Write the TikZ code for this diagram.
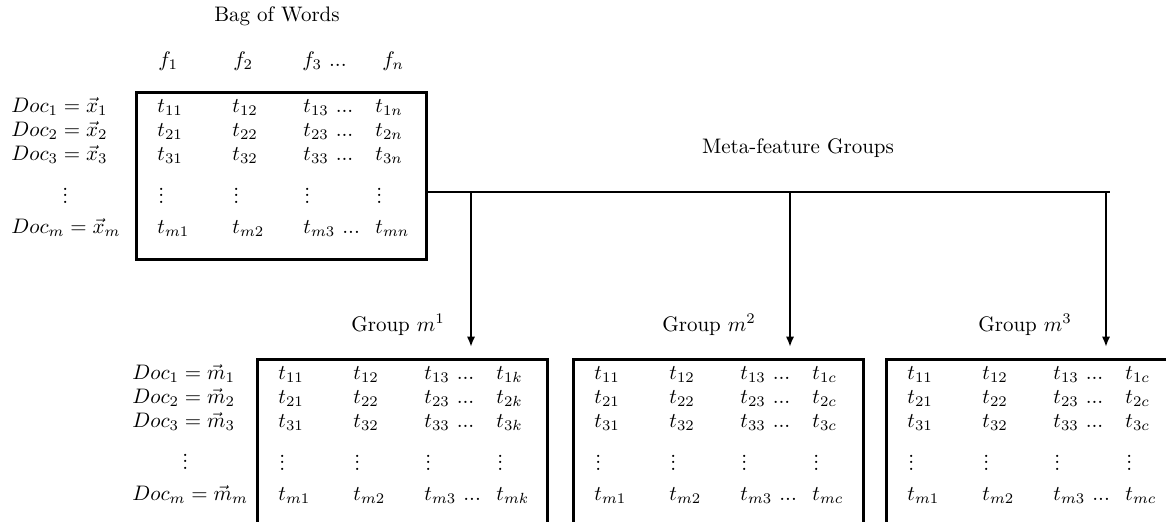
\documentclass[tikz,border=0pt]{standalone}
\usetikzlibrary{arrows.meta}

% compact vertical ellipsis
\newcommand\vdotcol{\vbox{\baselineskip3pt\lineskiplimit0pt\hbox{.}\hbox{.}\hbox{.}}}

% a term matrix: name, left x, top y, index of the last column
\newcommand\termtable[4]{%
  \node[tbl] (#1) at (#2,#3) {};
  \foreach \r/\ry in {1/17,2/41,3/65,m/138}{
    \node[cell] (#1-\r-1) at (#2+22,#3+\ry)  {$t_{\r1}$};
    \node[cell] (#1-\r-2) at (#2+97,#3+\ry)  {$t_{\r2}$};
    \node[cell] (#1-\r-3) at (#2+168,#3+\ry) {$t_{\r3}$ ...};
    \node[cell] (#1-\r-4) at (#2+240,#3+\ry) {$t_{\r#4}$};
  }
  \foreach \c/\cx in {1/22,2/97,3/168,4/240}
    \node[vdot] (#1-v-\c) at (#2+\cx+1,#3+112) {\vdotcol};
}

% row labels: name prefix, left x, top y, vector letter
\newcommand\doclabels[4]{%
  \foreach \r/\ry in {1/17,2/41,3/65,m/138}
    \node[cell] (#1-\r) at (#2,#3+\ry) {$Doc_{\r} = \vec{#4}_{\r}$};
}

\begin{document}
\begin{tikzpicture}[x=0.476pt,y=-0.476pt,
  cell/.style={anchor=west, inner sep=0pt, text height=1.5ex, text depth=0.5ex},
  vdot/.style={anchor=base west, inner sep=0pt},
  lbl/.style={inner sep=0pt},
  tbl/.style={draw, line width=1.25pt, inner sep=0pt, anchor=north west,
              minimum width=138pt, minimum height=79.5pt},
  link/.style={line width=1pt},
  feed/.style={line width=1pt, -{Latex[length=5pt,width=4pt]}}
]
\clip (0,0) rectangle (1166,521);

% bag of words matrix
\node[lbl] (bowtitle) at (277,16) {Bag of Words};
\node[cell] (f1) at (158,62) {$f_1$};
\node[cell] (f2) at (233,62) {$f_2$};
\node[cell] (f3) at (302,62) {$f_3$ ...};
\node[cell] (fn) at (382,62) {$f_n$};
\termtable{bow}{135}{91}{n}
\doclabels{docx}{11}{91}{x}
\node[vdot] (docx-v) at (62,203) {\vdotcol};

% meta-feature groups
\node[lbl] (metatitle) at (798,148) {Meta-feature Groups};
\node[lbl] (g1title) at (398,325) {Group $m^1$};
\node[lbl] (g2title) at (709,325) {Group $m^2$};
\node[lbl] (g3title) at (1025,325) {Group $m^3$};

\termtable{g1}{256}{358}{k}
\termtable{g2}{572}{358}{c}
\termtable{g3}{885}{358}{c}
\doclabels{docm}{132}{358}{m}
\node[vdot] (docm-v) at (182,469) {\vdotcol};

% distribution bus and arrows into the groups
\coordinate (bus) at (1110,192);
\coordinate (a1) at (471,347);
\coordinate (a2) at (790,347);
\coordinate (a3) at (1106,347);
\draw[link] (bow.east |- bus) -- (bus);
\draw[feed] (a1 |- bus) -- (a1);
\draw[feed] (a2 |- bus) -- (a2);
\draw[feed] (a3 |- bus) -- (a3);
\end{tikzpicture}
\end{document}
